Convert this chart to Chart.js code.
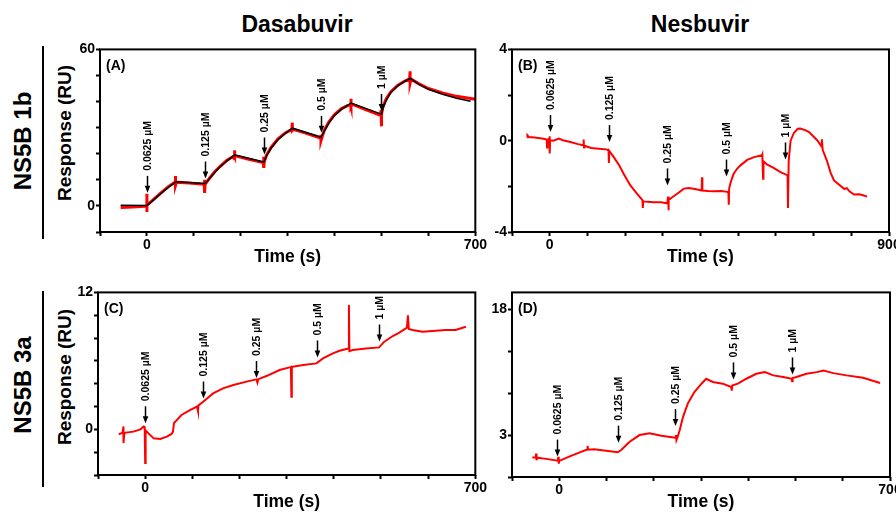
<!DOCTYPE html>
<html>
<head>
<meta charset="utf-8">
<script src="https://cdn.jsdelivr.net/npm/chart.js@4.4.1/dist/chart.umd.min.js"></script>
<style>
  body { margin: 0; width: 896px; height: 513px; background: #fff; overflow: hidden; position: relative;
         font-family: "Liberation Sans", Arial, sans-serif; font-weight: bold; color: #000; }
  .panel { position: absolute; }
  .lbl { position: absolute; white-space: nowrap; transform: translate(-50%, -50%); line-height: 1; }
  .rot { transform: translate(-50%, -50%) rotate(-90deg); }
  .rule { position: absolute; left: 42px; width: 1.5px; background: #000; }
</style>
</head>
<body>
<div class="lbl" style="left:297px;top:24px;font-size:23px">Dasabuvir</div>
<div class="lbl" style="left:700px;top:24px;font-size:23px">Nesbuvir</div>
<div class="lbl rot" style="left:23px;top:141px;font-size:24px">NS5B 1b</div>
<div class="lbl rot" style="left:23px;top:385px;font-size:24px">NS5B 3a</div>
<div class="rule" style="top:46px;height:193px"></div>
<div class="rule" style="top:291px;height:196px"></div>
<div class="lbl rot" style="left:64px;top:133px;font-size:19px">Response (RU)</div>
<div class="lbl rot" style="left:64px;top:377px;font-size:19px">Response (RU)</div>

<div class="panel" style="left:48px;top:40px;width:440px;height:228px"><canvas id="chartA"></canvas></div>
<div class="panel" style="left:470px;top:40px;width:440px;height:228px"><canvas id="chartB"></canvas></div>
<div class="panel" style="left:48px;top:283px;width:440px;height:230px"><canvas id="chartC"></canvas></div>
<div class="panel" style="left:470px;top:283px;width:440px;height:230px"><canvas id="chartD"></canvas></div>

<script>
// injection labels (same for every panel)
const doses = ['0.0625 µM', '0.125 µM', '0.25 µM', '0.5 µM', '1 µM'];

// (A) NS5B 1b + Dasabuvir : measured (red) and fitted (black)
const timeA = [-56, -30, -5, 0, 0, 0, 0, 15, 30, 45, 60, 61, 61, 63, 90, 122, 123, 123, 124, 135, 145, 155, 170, 186, 187, 187, 189,
  215, 248, 249, 249, 250, 255, 265, 280, 295, 309, 310, 310, 312, 340, 370, 371, 371, 373, 378, 388, 400, 415, 434, 435, 435, 437,
  465, 498, 499, 499, 501, 503, 510, 520, 535, 550, 560, 561, 561, 563, 580, 600, 630, 660, 700];
const redA = [-0.6, -0.4, -0.1, 0, 4.7, -2.3, 0.2, 2.6, 5.0, 7.3, 9.1, 11.5, 7.9, 9.1, 8.8, 8.3, 10.0, 5.0, 8.3, 11.0, 13.2, 15.0, 17.4, 19.2, 21.3, 18.8, 19.2,
  18.0, 16.6, 18.8, 14.6, 16.8, 19.5, 22.5, 25.8, 28.0, 29.4, 31.9, 29.0, 29.4, 27.8, 26.0, 27.3, 25.0, 26.2, 29.0, 32.2, 35.0, 37.3, 39.0, 41.1, 38.2, 39.0,
  37.0, 34.7, 36.7, 30.5, 35.0, 38.0, 41.0, 43.8, 46.3, 47.9, 48.7, 51.6, 47.1, 48.6, 46.8, 45.0, 43.3, 42.0, 40.9];
const timeFitA = [-56, 0, 15, 30, 45, 62, 124, 135, 145, 155, 170, 187, 249, 255, 265, 280, 295, 310, 371, 378, 388, 400, 415, 435,
  500, 503, 510, 520, 535, 550, 561, 580, 600, 630, 660, 690];
const fitA = [0.3, 0.2, 2.4, 4.8, 7.0, 9.3, 8.6, 10.8, 12.9, 14.8, 17.2, 19.6, 16.8, 19.2, 22.2, 25.5, 27.8, 29.8, 26.4, 28.6, 31.8, 34.7, 37.1, 39.4,
  35.2, 37.3, 40.5, 43.5, 46.1, 47.8, 48.9, 46.6, 44.7, 42.8, 41.3, 40.1];
const injA = [0, 123, 249, 371, 498];
const tipA = [5.0, 10.5, 19.7, 28.0, 36.4];

// (B) NS5B 1b + Nesbuvir
const timeB = [-60, -59, -55, -40, -20, -8, -7, -6, -1, 0, 0, 1, 10, 24, 35, 55, 75, 89, 90, 91, 92, 110, 130, 150, 156, 157, 158,
  170, 185, 196, 214, 232, 246, 247, 248, 260, 276, 295, 312, 314, 315, 316, 325, 340, 356, 369, 385, 403, 404, 405, 420, 435, 455,
  471, 474, 475, 476, 480, 488, 497, 506, 524, 542, 563, 564, 566, 567, 577, 595, 612, 629, 631, 632, 634, 639, 648, 658, 665, 679,
  688, 701, 710, 721, 722, 724, 735, 745, 754, 767, 781, 788, 795, 807, 820, 829, 842];
const redB = [0.15, 0.24, 0.16, 0.14, 0.1, 0.05, -0.3, 0.03, 0.1, 0.2, -0.56, 0.02, 0.0, 0.09, 0.02, -0.06, -0.15, -0.2, 0.05, -0.3, -0.22, -0.32, -0.35, -0.38, -0.42, -0.98, -0.45,
  -0.72, -1.1, -1.45, -1.96, -2.33, -2.6, -2.95, -2.65, -2.68, -2.7, -2.7, -2.74, -2.45, -3.05, -2.6, -2.48, -2.3, -2.1, -2.07, -2.12, -2.18, -1.6, -2.18, -2.2, -2.21, -2.2,
  -2.24, -2.28, -2.8, -2.1, -1.82, -1.45, -1.23, -1.08, -0.84, -0.72, -0.64, -0.6, -1.67, -0.9, -1.05, -1.2, -1.38, -1.5, -1.55, -2.95, -0.86, 0.0, 0.35, 0.52, 0.53, 0.45,
  0.38, 0.16, 0.01, -0.25, 0.06, -0.4, -0.86, -1.4, -1.74, -1.92, -2.11, -2.08, -2.22, -2.36, -2.35, -2.38, -2.45];
const injB = [0, 157, 311, 468, 623];
const tipB = [0.38, -0.06, -1.96, -1.57, -0.82];

// (C) NS5B 3a + Dasabuvir
const timeC = [-56, -48, -46, -46, -44, -25, -10, -3, -1, 0, 1, 7, 18, 32, 46, 56, 59, 61, 77, 95, 110, 112, 113, 123, 144, 165, 187,
  215, 236, 238, 240, 257, 285, 306, 309, 310, 311, 313, 335, 363, 377, 398, 412, 431, 432, 433, 440, 468, 496, 507, 525, 539, 555,
  557, 559, 567, 588, 609, 637, 658, 680];
const redC = [-0.44, -0.3, 0.25, -1.2, -0.3, -0.2, 0.0, 0.25, 0.2, -2.95, -0.1, -0.35, -0.79, -0.85, -0.64, -0.4, -0.2, 0.55, 1.26, 1.69, 2.0, 1.6, 2.1, 2.42, 3.15, 3.59, 3.88,
  4.18, 4.38, 4.1, 4.4, 4.67, 5.2, 5.43, 5.45, 2.86, 5.5, 5.49, 5.64, 5.78, 6.22, 6.66, 6.89, 7.09, 10.9, 6.85, 6.95, 7.09, 7.18, 7.68, 8.18, 8.47, 8.91,
  10.0, 8.8, 8.7, 8.55, 8.61, 8.7, 8.7, 8.99];
const injC = [0, 123, 236, 364, 495];
const tipC = [0.53, 2.7, 4.5, 6.3, 7.7];

// (D) NS5B 3a + Nesbuvir
const timeD = [-57, -50, -49, -48, -47, -28, -3, -2, -1, 0, 21, 42, 59, 60, 61, 74, 99, 124, 131, 149, 170, 191, 216, 246, 247, 248, 250,
  255, 262, 272, 286, 301, 311, 325, 346, 364, 365, 366, 378, 396, 417, 435, 453, 474, 492, 493, 494, 502, 523, 545, 559, 580, 608, 643, 679];
const redD = [0.32, 0.35, 0.8, 0.0, 0.3, 0.16, -0.05, 0.4, -0.4, -0.08, 0.43, 0.91, 1.28, 1.7, 1.25, 1.3, 1.14, 0.95, 1.22, 2.21, 3.0, 3.2, 2.92, 2.68, 3.0, 2.4, 2.7,
  3.59, 5.17, 6.75, 8.13, 9.12, 9.71, 9.32, 9.12, 8.72, 8.3, 8.9, 9.12, 9.71, 10.3, 10.5, 10.11, 9.91, 9.71, 9.4, 9.8, 9.91, 10.3, 10.5, 10.7, 10.38, 10.11, 9.83, 9.2];
const injD = [-4, 124, 244, 368, 493];
const tipD = [0.43, 2.09, 4.07, 9.63, 10.22];

// axes
const xTicks7 = [-100, 0, 100, 200, 300, 400, 500, 600, 700];
const xTicks9 = [-100, 0, 100, 200, 300, 400, 500, 600, 700, 800, 900];
const yTicksA = [-10, 0, 10, 20, 30, 40, 50, 60];
const yTicksB = [-4, -2, 0, 2, 4];
const yTicksC = [-4, -2, 0, 2, 4, 6, 8, 10, 12];
const yTicksD = [-2, 3, 8, 13, 18];
const yLabelsA = [0, 60];
const yLabelsB = [-4, 0, 4];
const yLabelsC = [0, 12];
const yLabelsD = [3, 18];

const FONT = '"Liberation Sans", Arial, sans-serif';

function toPoints(ts, vs) {
  return ts.map((t, i) => ({ x: t, y: vs[i] }));
}

// black frame round the plot area, panel letter and injection arrows
const decor = {
  id: 'decor',
  afterDatasetsDraw(chart, args, opts) {
    const { ctx, chartArea: a, scales } = chart;
    ctx.save();
    ctx.strokeStyle = '#000';
    ctx.lineWidth = 2;
    ctx.strokeRect(a.left, a.top, a.right - a.left, a.bottom - a.top);

    ctx.fillStyle = '#000';
    ctx.font = 'bold 14px ' + FONT;
    ctx.textAlign = 'left';
    ctx.textBaseline = 'middle';
    ctx.fillText(opts.letter, a.left + 6, a.top + 17);

    opts.inj.forEach((t, i) => {
      const x = Math.round(scales.x.getPixelForValue(t)) + 0.5;
      const yTip = scales.y.getPixelForValue(opts.tip[i]);
      const top = yTip - 17;
      ctx.lineWidth = 1.5;
      ctx.beginPath();
      ctx.moveTo(x, top);
      ctx.lineTo(x, yTip - 5);
      ctx.stroke();
      ctx.beginPath();
      ctx.moveTo(x - 2.8, yTip - 7);
      ctx.lineTo(x + 2.8, yTip - 7);
      ctx.lineTo(x, yTip);
      ctx.closePath();
      ctx.fill();

      ctx.save();
      ctx.translate(x + 0.5, top - 5);
      ctx.rotate(-Math.PI / 2);
      ctx.font = 'bold 10.5px ' + FONT;
      ctx.textAlign = 'left';
      ctx.textBaseline = 'middle';
      ctx.fillText(doses[i], 0, 0);
      ctx.restore();
    });
    ctx.restore();
  }
};

function makePanel(id, p) {
  const datasets = p.series.map(s => ({
    data: toPoints(s.t, s.v),
    borderColor: s.color,
    borderWidth: s.width,
    pointRadius: 0,
    tension: 0,
    fill: false
  }));
  new Chart(document.getElementById(id), {
    type: 'line',
    data: { datasets: datasets },
    options: {
      animation: false,
      responsive: true,
      maintainAspectRatio: false,
      layout: { padding: { top: 9, right: p.padRight, left: 0, bottom: 0 } },
      plugins: {
        legend: { display: false },
        tooltip: { enabled: false },
        decor: { letter: p.letter, inj: p.inj, tip: p.tip }
      },
      scales: {
        x: {
          type: 'linear',
          min: p.xTicks[0],
          max: p.xTicks[p.xTicks.length - 1],
          afterBuildTicks: s => { s.ticks = p.xTicks.map(v => ({ value: v })); },
          afterFit: s => { s.height = p.xHeight; },
          ticks: {
            autoSkip: false, maxRotation: 0, padding: 1, color: '#000',
            font: { family: FONT, size: 14, weight: 'bold' },
            callback: v => (v === 0 || v === p.xTicks[p.xTicks.length - 1]) ? String(v) : ''
          },
          grid: { drawOnChartArea: false, drawTicks: true, tickLength: 4, tickWidth: 2, tickColor: '#000' },
          border: { display: false },
          title: {
            display: true, text: 'Time (s)', color: '#000', padding: 0,
            font: { family: FONT, size: 17.5, weight: 'bold' }
          }
        },
        y: {
          min: p.yTicks[0],
          max: p.yMax,
          afterBuildTicks: s => { s.ticks = p.yTicks.map(v => ({ value: v })); },
          afterFit: s => { s.width = p.yWidth; },
          ticks: {
            autoSkip: false, padding: 1, color: '#000',
            font: { family: FONT, size: 14, weight: 'bold' },
            callback: v => p.yLabels.includes(v) ? String(v) : ''
          },
          grid: { drawOnChartArea: false, drawTicks: true, tickLength: 4, tickWidth: 2, tickColor: '#000' },
          border: { display: false }
        }
      }
    },
    plugins: [decor]
  });
}

makePanel('chartA', {
  letter: '(A)', inj: injA, tip: tipA,
  series: [
    { t: timeFitA, v: fitA, color: '#000', width: 1.5 },
    { t: timeA, v: redA, color: '#ff0000', width: 3 }
  ],
  xTicks: xTicks7, yTicks: yTicksA, yLabels: yLabelsA, yMax: 60,
  padRight: 12, yWidth: 52, xHeight: 36
});

makePanel('chartB', {
  letter: '(B)', inj: injB, tip: tipB,
  series: [{ t: timeB, v: redB, color: '#ff0000', width: 2 }],
  xTicks: xTicks9, yTicks: yTicksB, yLabels: yLabelsB, yMax: 4,
  padRight: 21, yWidth: 42, xHeight: 36
});

makePanel('chartC', {
  letter: '(C)', inj: injC, tip: tipC,
  series: [{ t: timeC, v: redC, color: '#ff0000', width: 2 }],
  xTicks: xTicks7, yTicks: yTicksC, yLabels: yLabelsC, yMax: 12,
  padRight: 12, yWidth: 50, xHeight: 38
});

makePanel('chartD', {
  letter: '(D)', inj: injD, tip: tipD,
  series: [{ t: timeD, v: redD, color: '#ff0000', width: 2 }],
  xTicks: xTicks7, yTicks: yTicksD, yLabels: yLabelsD, yMax: 20,
  padRight: 20, yWidth: 42, xHeight: 36
});
</script>
</body>
</html>
